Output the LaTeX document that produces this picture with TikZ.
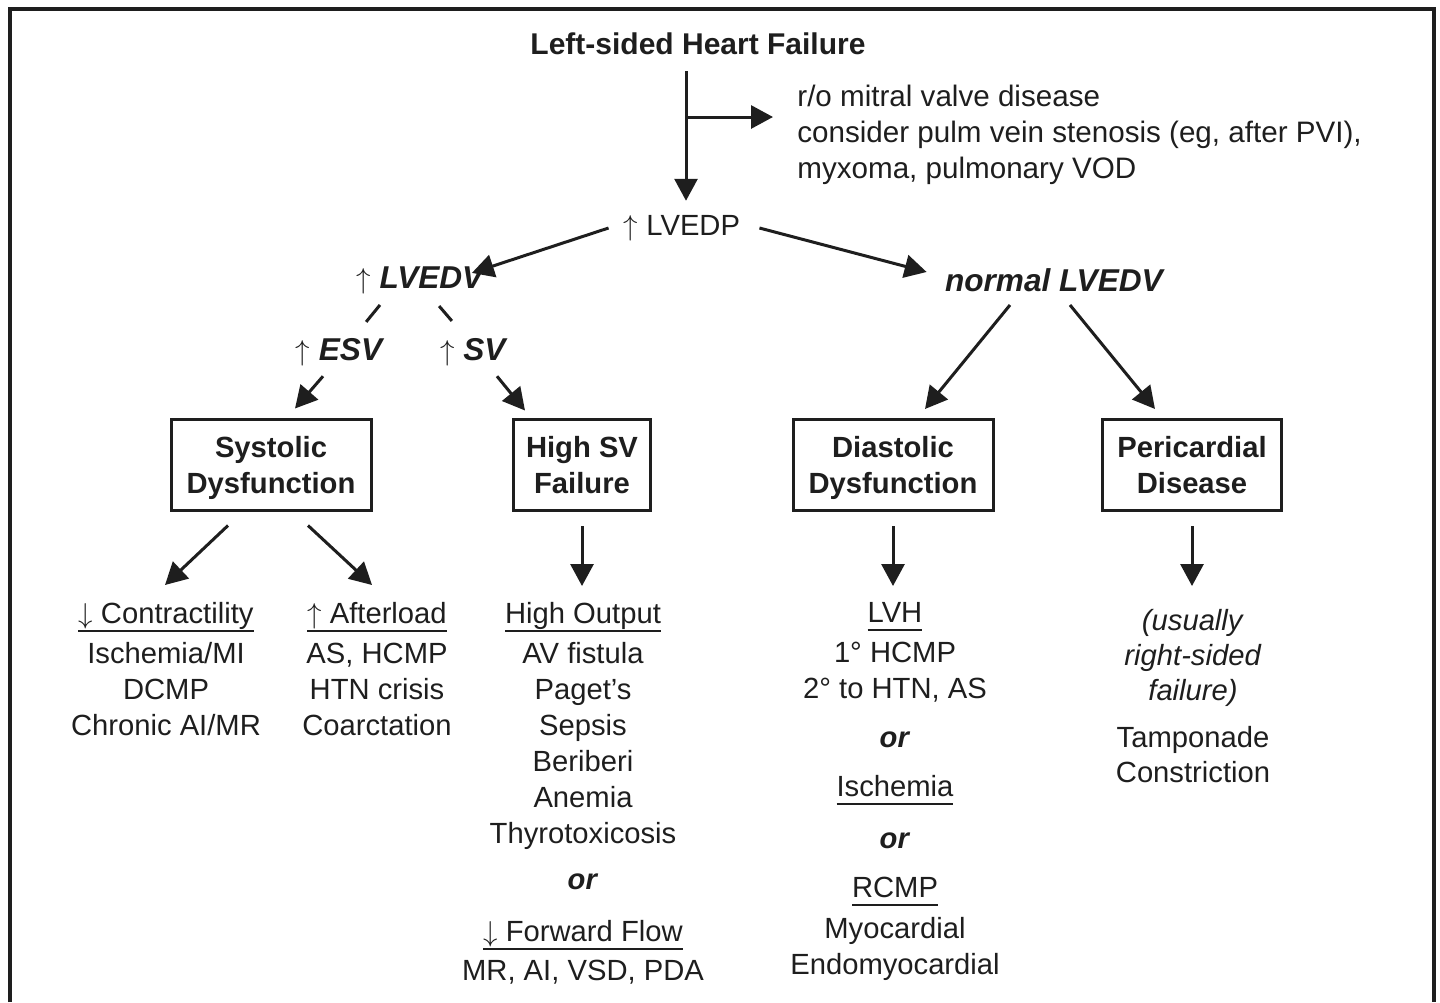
\documentclass[tikz,border=0pt]{standalone}
\usepackage{fontspec}
\setmainfont{Liberation Sans}
\usetikzlibrary{arrows.meta,calc}
\definecolor{ink}{HTML}{1E1E1E}
\tikzset{
  >={Triangle[length=11pt,width=11.5pt]},
  every node/.style={font=\fontsize{14.6}{18}\selectfont,text=ink,inner sep=0pt},
  head/.style={font=\fontsize{15}{18}\selectfont\bfseries},
  vol/.style={font=\fontsize{15.8}{18}\selectfont},
  box/.style={draw=ink,line width=1.5pt,minimum height=45.5pt,text depth=0pt,align=center,inner sep=4pt,font=\fontsize{14.6}{18}\selectfont\bfseries},
  col/.style={align=center,anchor=north},
  arr/.style={->,line width=1.5pt,draw=ink},
  link/.style={line width=1.5pt,draw=ink},
  frame/.style={line width=1.6pt,draw=ink},
}
\newcommand{\hd}[1]{\vtop{\hbox{\raisebox{0pt}[\height][0pt]{#1}}\kern3pt\hrule height 1.4pt}}
\newcommand{\bi}[1]{\textbf{\textit{#1}}}

\begin{document}
\begin{tikzpicture}[x=0.5pt,y=-0.5pt]
\useasboundingbox (0,0) rectangle (1440,1002);
\draw[frame] (10,1002) |- (1434,9) -- (1434,1002);

% top
\node[head] (title) at (698,44) {Left-sided Heart Failure};
\node[anchor=west,align=left,font=\fontsize{14.8}{18}\selectfont] (note) at (797,135)
{r/o mitral valve disease\\consider pulm vein stenosis (eg, after PVI),\\myxoma, pulmonary VOD};
\node (lvedp) at (682,228) {$\uparrow$ LVEDP};
\coordinate (br) at (686,117);

% volumes
\node[vol] (lvedv) at (421,280) {$\uparrow$ \bi{LVEDV}};
\node[vol] (normal) at (1055,280) {\bi{normal LVEDV}};
\node[vol] (esv) at (340,352) {$\uparrow$ \bi{ESV}};
\node[vol] (sv) at (474,352) {$\uparrow$ \bi{SV}};

% boxes
\node[box,minimum width=100pt] (sys) at (271,465) {Systolic\\Dysfunction};
\node[box,minimum width=68.5pt] (hsv) at (582,465) {High SV\\Failure};
\node[box,minimum width=100pt] (dia) at (893,465) {Diastolic\\Dysfunction};
\node[box,minimum width=89.5pt] (peri) at (1192,465) {Pericardial\\Disease};

% causes
\node[col] (contr) at (166,602)
{\hd{$\downarrow$ Contractility}\\[2pt]Ischemia/MI\\DCMP\\Chronic AI/MR};
\node[col] (after) at (377,602)
{\hd{$\uparrow$ Afterload}\\[2pt]AS, HCMP\\HTN crisis\\Coarctation};
\node[col] (outp) at (583,602)
{\hd{High Output}\\[2pt]AV fistula\\Paget's\\Sepsis\\Beriberi\\Anemia\\Thyrotoxicosis\\[5pt]\bi{or}\\[8pt]\hd{$\downarrow$ Forward Flow}\\[1.5pt]MR, AI, VSD, PDA};
\node[col] (lvh) at (895,602)
{\hd{LVH}\\[2pt]1° HCMP\\2° to HTN, AS\\[6.5pt]\bi{or}\\[6.5pt]\hd{Ischemia}\\[8pt]\bi{or}\\[6.5pt]\hd{RCMP}\\[2.5pt]Myocardial\\Endomyocardial};
\node[col] (peric) at (1193,609)
{\textit{(usually}\\[-0.5pt]\textit{right-sided}\\[-0.5pt]\textit{failure)}\\[5.5pt]Tamponade\\[-0.5pt]Constriction};

% arrows
\draw[arr] ([yshift=-8pt]title.south -| br) -- ([yshift=7pt]lvedp.north -| br);
\draw[arr] (br) -- ([xshift=-12pt]note.west |- br);
\draw[arr] ([shift={(-15,0)}]lvedp.west) -- ([shift={(-14,7)}]lvedv.north east);
\draw[arr] ([shift={(19,0)}]lvedp.east) -- ([shift={(-18,4)}]normal.north west);
\draw[link,shorten <=17.4pt,shorten >=17.5pt] ([shift={(-19,-2)}]lvedv.center) -- ([shift={(4,-3)}]esv.center);
\draw[link,shorten <=18.5pt,shorten >=18.5pt] ([shift={(-6,-2)}]lvedv.center) -- ([shift={(2,-3)}]sv.center);
\draw[arr] ([shift={(-17,10)}]esv.south) -- ([shift={(24,-9.5)}]sys.north);
\draw[arr] ([shift={(23,10)}]sv.south) -- ([shift={(-57,-7.5)}]hsv.north);
\draw[arr] ([shift={(-45,13)}]normal.south) -- ([shift={(32,-9)}]dia.north);
\draw[arr] ([shift={(15,13)}]normal.south) -- ([shift={(-37,-9)}]peri.north);
\draw[arr] ([shift={(-43,13.5)}]sys.south) -- ([shift={(-1,-17)}]contr.north);
\draw[arr] ([shift={(37,13.5)}]sys.south) -- ([shift={(-5,-17)}]after.north);
\draw[arr] ([shift={(0,14)}]hsv.south) -- ([shift={(0,-16)}]outp.north -| hsv.south);
\draw[arr] ([shift={(0,14)}]dia.south) -- ([shift={(0,-16)}]lvh.north -| dia.south);
\draw[arr] ([shift={(0,14)}]peri.south) -- ([shift={(0,-23)}]peric.north -| peri.south);

\end{tikzpicture}
\end{document}
